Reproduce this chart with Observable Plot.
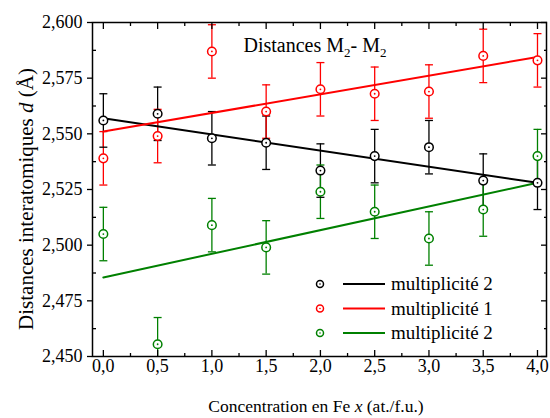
<!DOCTYPE html>
<html>
<head>
<meta charset="utf-8">
<script src="https://cdn.jsdelivr.net/npm/d3@7"></script>
<script src="https://cdn.jsdelivr.net/npm/@observablehq/plot@0.6"></script>
<style>
  body { margin: 0; background: #fff; }
  #chart { width: 550px; height: 418px; }
</style>
</head>
<body>
<div id="chart"></div>
<script>
// ---- data ----
const concentrations = [0, 0.5, 1.0, 1.5, 2.0, 2.5, 3.0, 3.5, 4.0];
const mult2a = [2.556, 2.559, 2.548, 2.546, 2.5335, 2.540, 2.544, 2.529, 2.528];
const mult1  = [2.539, 2.549, 2.587, 2.560, 2.570, 2.568, 2.569, 2.585, 2.583];
const mult2b = [2.505, 2.4555, 2.509, 2.499, 2.524, 2.515, 2.503, 2.516, 2.540];
const errorHalf = [0.012, 0.012, 0.012, 0.012, 0.012, 0.012, 0.012, 0.012, 0.012];

const fitX  = [0, 4];
const fit2a = [2.557, 2.528];
const fit1  = [2.551, 2.5845];
const fit2b = [2.4855, 2.528];

const seriesNames  = ["multiplicité 2", "multiplicité 1", "multiplicité 2"];
const seriesColors = ["#000000", "#ff0000", "#008000"];

const xTicks      = [0, 0.5, 1.0, 1.5, 2.0, 2.5, 3.0, 3.5, 4.0];
const xMinorTicks = [0.25, 0.75, 1.25, 1.75, 2.25, 2.75, 3.25, 3.75];
const yTicks      = [2.450, 2.475, 2.500, 2.525, 2.550, 2.575, 2.600];
const yMinorTicks = [2.4625, 2.4875, 2.5125, 2.5375, 2.5625, 2.5875];

// ---- tables built from the arrays ----
const seriesValues = [mult2a, mult1, mult2b];
const fits = [fit2a, fit1, fit2b];
const points = [];
seriesValues.forEach((vals, s) => vals.forEach((v, i) =>
  points.push({x: concentrations[i], y: v, e: errorHalf[i], s})));
const fitRows = [];
fits.forEach((f, s) => f.forEach((v, i) => fitRows.push({x: fitX[i], y: v, s})));

const fmtX = d => d.toFixed(1).replace(".", ",");
const fmtY = d => d.toFixed(3).replace(".", ",");
const colorOf = d => seriesColors[d.s];

const capSymbol = {
  draw(context, size) {
    const r = Math.sqrt(size / Math.PI);
    context.moveTo(-r, 0);
    context.lineTo(r, 0);
  }
};

const FONT = "\"Liberation Serif\", Tinos, \"Times New Roman\", Times, \"DejaVu Serif\", \"Noto Serif\", serif";
const ML = 92, MR = 4, MT = 22, MB = 62, W = 550, H = 418;

const plot = Plot.plot({
  width: W, height: H,
  marginLeft: ML, marginRight: MR, marginTop: MT, marginBottom: MB,
  style: {fontFamily: FONT, fontSize: "18px", color: "#000", background: "#fff", overflow: "visible"},
  x: {domain: [-0.1, 4.083]},
  y: {domain: [2.45, 2.6]},
  marks: [
    // error bars
    Plot.ruleX(points, {x: "x", y1: d => d.y - d.e, y2: d => d.y + d.e, stroke: colorOf, strokeWidth: 1.3, clip: true}),
    Plot.dot(points, {x: "x", y: d => d.y + d.e, symbol: capSymbol, r: 4, stroke: colorOf, strokeWidth: 1.3, clip: true}),
    Plot.dot(points.filter(d => d.y - d.e >= 2.45), {x: "x", y: d => d.y - d.e, symbol: capSymbol, r: 4, stroke: colorOf, strokeWidth: 1.3, clip: true}),
    // fit lines
    Plot.line(fitRows, {x: "x", y: "y", z: "s", stroke: colorOf, strokeWidth: 2}),
    // markers
    Plot.dot(points, {x: "x", y: "y", r: 4.3, stroke: colorOf, fill: "#fff", strokeWidth: 1.5}),
    Plot.dot(points, {x: "x", y: "y", r: 0.9, fill: colorOf, stroke: "none"}),
    // frame
    Plot.frame({stroke: "#000", strokeWidth: 1.5}),
    // tick marks
    Plot.axisX(xTicks, {anchor: "bottom", tickSize: -6, fill: "none", strokeWidth: 1.3}),
    Plot.axisX(xMinorTicks, {anchor: "bottom", tickSize: -3, fill: "none", strokeWidth: 1.3}),
    Plot.axisX(xTicks, {anchor: "top", tickSize: -6, fill: "none", strokeWidth: 1.3}),
    Plot.axisX(xMinorTicks, {anchor: "top", tickSize: -3, fill: "none", strokeWidth: 1.3}),
    Plot.axisY(yTicks, {anchor: "left", tickSize: 5, fill: "none", strokeWidth: 1.3}),
    Plot.axisY(yMinorTicks, {anchor: "left", tickSize: -4, fill: "none", strokeWidth: 1.3}),
    Plot.axisY(yTicks, {anchor: "right", tickSize: -6, fill: "none", strokeWidth: 1.3}),
    Plot.axisY(yMinorTicks, {anchor: "right", tickSize: -3, fill: "none", strokeWidth: 1.3}),
    // tick labels
    Plot.axisX(xTicks, {anchor: "bottom", tickSize: 0, tickPadding: 3, tickFormat: fmtX, label: null, fontSize: 18, fontFamily: FONT}),
    Plot.axisY(yTicks, {anchor: "left", tickSize: 0, tickPadding: 10, tickFormat: fmtY, label: null, fontSize: 18, fontFamily: FONT})
  ]
});
document.getElementById("chart").appendChild(plot);

// ---- text annotations & legend ----
const svg = d3.select(plot);
const cx = (ML + (W - MR)) / 2;
const cy = (MT + (H - MB)) / 2;

// title
const title = svg.append("text")
  .attr("x", cx - 4).attr("y", 52)
  .attr("text-anchor", "middle")
  .style("font-family", FONT).style("font-size", "20px").attr("fill", "#000");
title.append("tspan").text("Distances M");
title.append("tspan").attr("dy", 5).style("font-size", "13px").text("2");
title.append("tspan").attr("dy", -5).text("- M");
title.append("tspan").attr("dy", 5).style("font-size", "13px").text("2");

// x label
const xl = svg.append("text")
  .attr("x", cx - 3).attr("y", 412)
  .attr("text-anchor", "middle")
  .style("font-family", FONT).style("font-size", "17.5px").attr("fill", "#000");
xl.append("tspan").text("Concentration en Fe ");
xl.append("tspan").style("font-style", "italic").text("x");
xl.append("tspan").text(" (at./f.u.)");

// y label
const yl = svg.append("text")
  .attr("transform", `translate(33,${cy + 10}) rotate(-90)`)
  .attr("text-anchor", "middle")
  .style("font-family", FONT).style("font-size", "21px").attr("fill", "#000");
yl.append("tspan").text("Distances interatomiques ");
yl.append("tspan").style("font-style", "italic").text("d");
yl.append("tspan").text(" (Å)");

// legend
const lg = svg.append("g").style("font-family", FONT).style("font-size", "19px")
  .attr("text-anchor", "start");
seriesNames.forEach((name, i) => {
  const yy = 284 + i * 24.5;
  lg.append("circle").attr("cx", 320).attr("cy", yy).attr("r", 3.5)
    .attr("fill", "#fff").attr("stroke", seriesColors[i]).attr("stroke-width", 1.5);
  lg.append("circle").attr("cx", 320).attr("cy", yy).attr("r", 0.8).attr("fill", seriesColors[i]);
  lg.append("line").attr("x1", 343).attr("x2", 385).attr("y1", yy).attr("y2", yy)
    .attr("stroke", seriesColors[i]).attr("stroke-width", 2);
  lg.append("text").attr("x", 391).attr("y", yy + 6).attr("text-anchor", "start")
    .attr("fill", "#000").text(name);
});
</script>
</body>
</html>
